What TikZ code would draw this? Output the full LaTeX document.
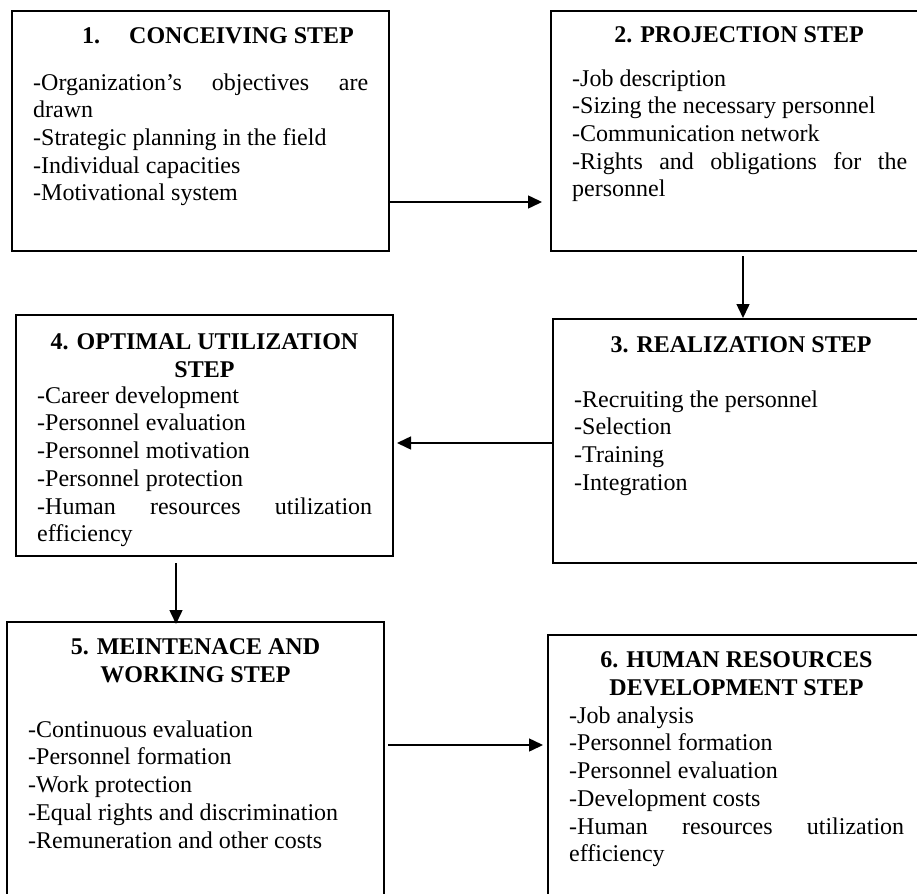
\documentclass[tikz,border=0pt]{standalone}
\usepackage{fontspec}
\setmainfont{Liberation Serif}
\usetikzlibrary{arrows.meta}
\newcommand{\firststrut}{\rule{0pt}{18pt}}

\begin{document}
\begin{tikzpicture}[x=1pt,y=-1pt,
      every node/.style={font=\fontsize{24}{27.7}\selectfont, inner sep=0pt},
      stepbox/.style={draw, line width=2pt, minimum width=377pt},
      steptitle/.style={font=\fontsize{24}{28}\selectfont\bfseries, align=center},
      stepbody/.style={anchor=north west, text width=335pt, align=justify},
      flow/.style={line width=1.5pt, -{Triangle[length=14pt,width=13pt]}}]

      \useasboundingbox (0,0) rectangle (917,893);
      \clip (0,0) rectangle (917,893);

      \node[stepbox, minimum height=240pt] (step-1) at (200.5,131) {};
      \node[stepbox, minimum height=240pt] (step-2) at (739.5,131) {};
      \node[stepbox, minimum height=244pt] (step-3) at (741.5,441) {};
      \node[stepbox, minimum height=241pt] (step-4) at (204.5,435.5) {};
      \node[stepbox, minimum height=298pt] (step-5) at (195.5,771) {};
      \node[stepbox, minimum height=285pt] (step-6) at (736.5,777.5) {};

      \node[steptitle, anchor=base west] (title-1) at (82,44)
        {1.\hspace{29pt}CONCEIVING STEP};
      \node[steptitle, anchor=base] (title-2) at (739,43) {2. PROJECTION STEP};
      \node[steptitle, anchor=base] (title-3) at (741,352) {3. REALIZATION STEP};
      \node[steptitle, anchor=north] (title-4) at (204.5,331)
        {\firststrut 4. OPTIMAL UTILIZATION\\STEP};
      \node[steptitle, anchor=north] (title-5) at (195.5,636)
        {\firststrut 5. MEINTENACE AND\\WORKING STEP};
      \node[steptitle, anchor=north] (title-6) at (736.5,649)
        {\firststrut 6. HUMAN RESOURCES\\DEVELOPMENT STEP};

      \node[stepbody] (body-1) at (33,72)
        {\firststrut-Organization’s objectives are\linebreak drawn\\
         -Strategic planning in the field\\
         -Individual capacities\\
         -Motivational system};
      \node[stepbody] (body-2) at (572,68)
        {\firststrut-Job description\\
         -Sizing the necessary personnel\\
         -Communication network\\
         -Rights and obligations for the\linebreak personnel};
      \node[stepbody] (body-3) at (574,389)
        {\firststrut-Recruiting the personnel\\
         -Selection\\
         -Training\\
         -Integration};
      \node[stepbody] (body-4) at (37,385)
        {\firststrut-Career development\\
         -Personnel evaluation\\
         -Personnel motivation\\
         -Personnel protection\\
         -Human resources utilization\linebreak efficiency};
      \node[stepbody] (body-5) at (28,719)
        {\firststrut-Continuous evaluation\\
         -Personnel formation\\
         -Work protection\\
         -Equal rights and discrimination\\
         -Remuneration and other costs};
      \node[stepbody] (body-6) at (569,705)
        {\firststrut-Job analysis\\
         -Personnel formation\\
         -Personnel evaluation\\
         -Development costs\\
         -Human resources utilization\linebreak efficiency};

      \draw[flow] ([yshift=-71pt]step-1.east) -- ([xshift=-8pt,yshift=-71pt]step-2.west);
      \draw[flow] ([xshift=3.5pt,yshift=-4pt]step-2.south) -- ([xshift=1.5pt]step-3.north);
      \draw[flow] ([yshift=-2pt]step-3.west) -- ([xshift=3pt,yshift=-7.5pt]step-4.east);
      \draw[flow] ([xshift=-28.5pt,yshift=-6pt]step-4.south) -- ([xshift=-19.5pt,yshift=-3pt]step-5.north);
      \draw[flow] ([xshift=3pt,yshift=26pt]step-5.east) -- ([xshift=-4pt,yshift=32.5pt]step-6.west);
    \end{tikzpicture}
\end{document}
